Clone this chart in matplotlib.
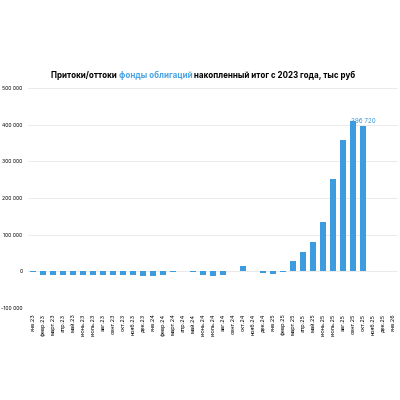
import matplotlib
matplotlib.use('Agg')
import matplotlib.pyplot as plt
import numpy as np

# месяцы
months = ['янв.23', 'февр.23', 'март.23', 'апр.23', 'май.23', 'июнь.23', 'июль.23',
          'авг.23', 'сент.23', 'окт.23', 'нояб.23', 'дек.23',
          'янв.24', 'февр.24', 'март.24', 'апр.24', 'май.24', 'июнь.24', 'июль.24',
          'авг.24', 'сент.24', 'окт.24', 'нояб.24', 'дек.24',
          'янв.25', 'февр.25', 'март.25', 'апр.25', 'май.25', 'июнь.25', 'июль.25',
          'авг.25', 'сент.25', 'окт.25', 'нояб.25', 'дек.25', 'янв.26']

# накопленный итог, тыс руб
values = [-1000, -9000, -10000, -10000, -9000, -9000, -9000,
          -10000, -11000, -10000, -11000, -13000,
          -14000, -10000, -2000, 2000, -3000, -9000, -12000,
          -10000, 0, 14000, 2000, -5000,
          -7000, -1000, 27000, 52000, 81000, 135000, 253000,
          358000, 409000, 396720, 0, 0, 0]

label_idx = 33
label_text = '396 720'

yticks = [-100000, 0, 100000, 200000, 300000, 400000, 500000]

blue = '#3d9be0'
plt.rcParams['font.family'] = ['Inter', 'DejaVu Sans']

fig = plt.figure(figsize=(4, 4), dpi=100)
ax = fig.add_axes([0.07, 0.23, 0.925, 0.55])

x = np.arange(len(months))
ax.bar(x, values, width=0.65, color=blue, zorder=3)

ax.set_xlim(-0.5, len(months) - 0.5)
ax.set_ylim(-100000, 500000)
ax.set_yticks(yticks)
ax.set_yticklabels([f'{v:,}'.replace(',', ' ') for v in yticks], fontsize=3.7)
ax.set_xticks(x)
ax.set_xticklabels(months, rotation=90, fontsize=4.0)
ax.tick_params(axis='y', length=0, pad=4)
ax.tick_params(axis='x', length=0, pad=4)
ax.grid(axis='y', color='#e6e6e6', linewidth=0.6, zorder=0)
for s in ax.spines.values():
    s.set_visible(False)

ax.text(label_idx, values[label_idx] + 4000, label_text, ha='center', va='bottom',
        fontsize=4.5, color=blue)

# заголовок в три цвета
ty = 0.805
fs = 5.75
t1 = fig.text(0.128, ty, 'Притоки/оттоки ', fontsize=fs, fontweight='bold', color='black')
t2 = fig.text(0, 0, 'фонды облигаций', fontsize=fs, fontweight='bold', color='#4ba3e3')
t3 = fig.text(0, 0, ' накопленный итог с 2023 года, тыс руб', fontsize=fs, fontweight='bold', color='black')
fig.canvas.draw()
r = fig.canvas.get_renderer()
bb1 = t1.get_window_extent(r)
t2.set_position((bb1.x1 / fig.bbox.width, ty))
bb2 = t2.get_window_extent(r)
t3.set_position((bb2.x1 / fig.bbox.width, ty))

fig.savefig('out.png', dpi=100, facecolor='white')
